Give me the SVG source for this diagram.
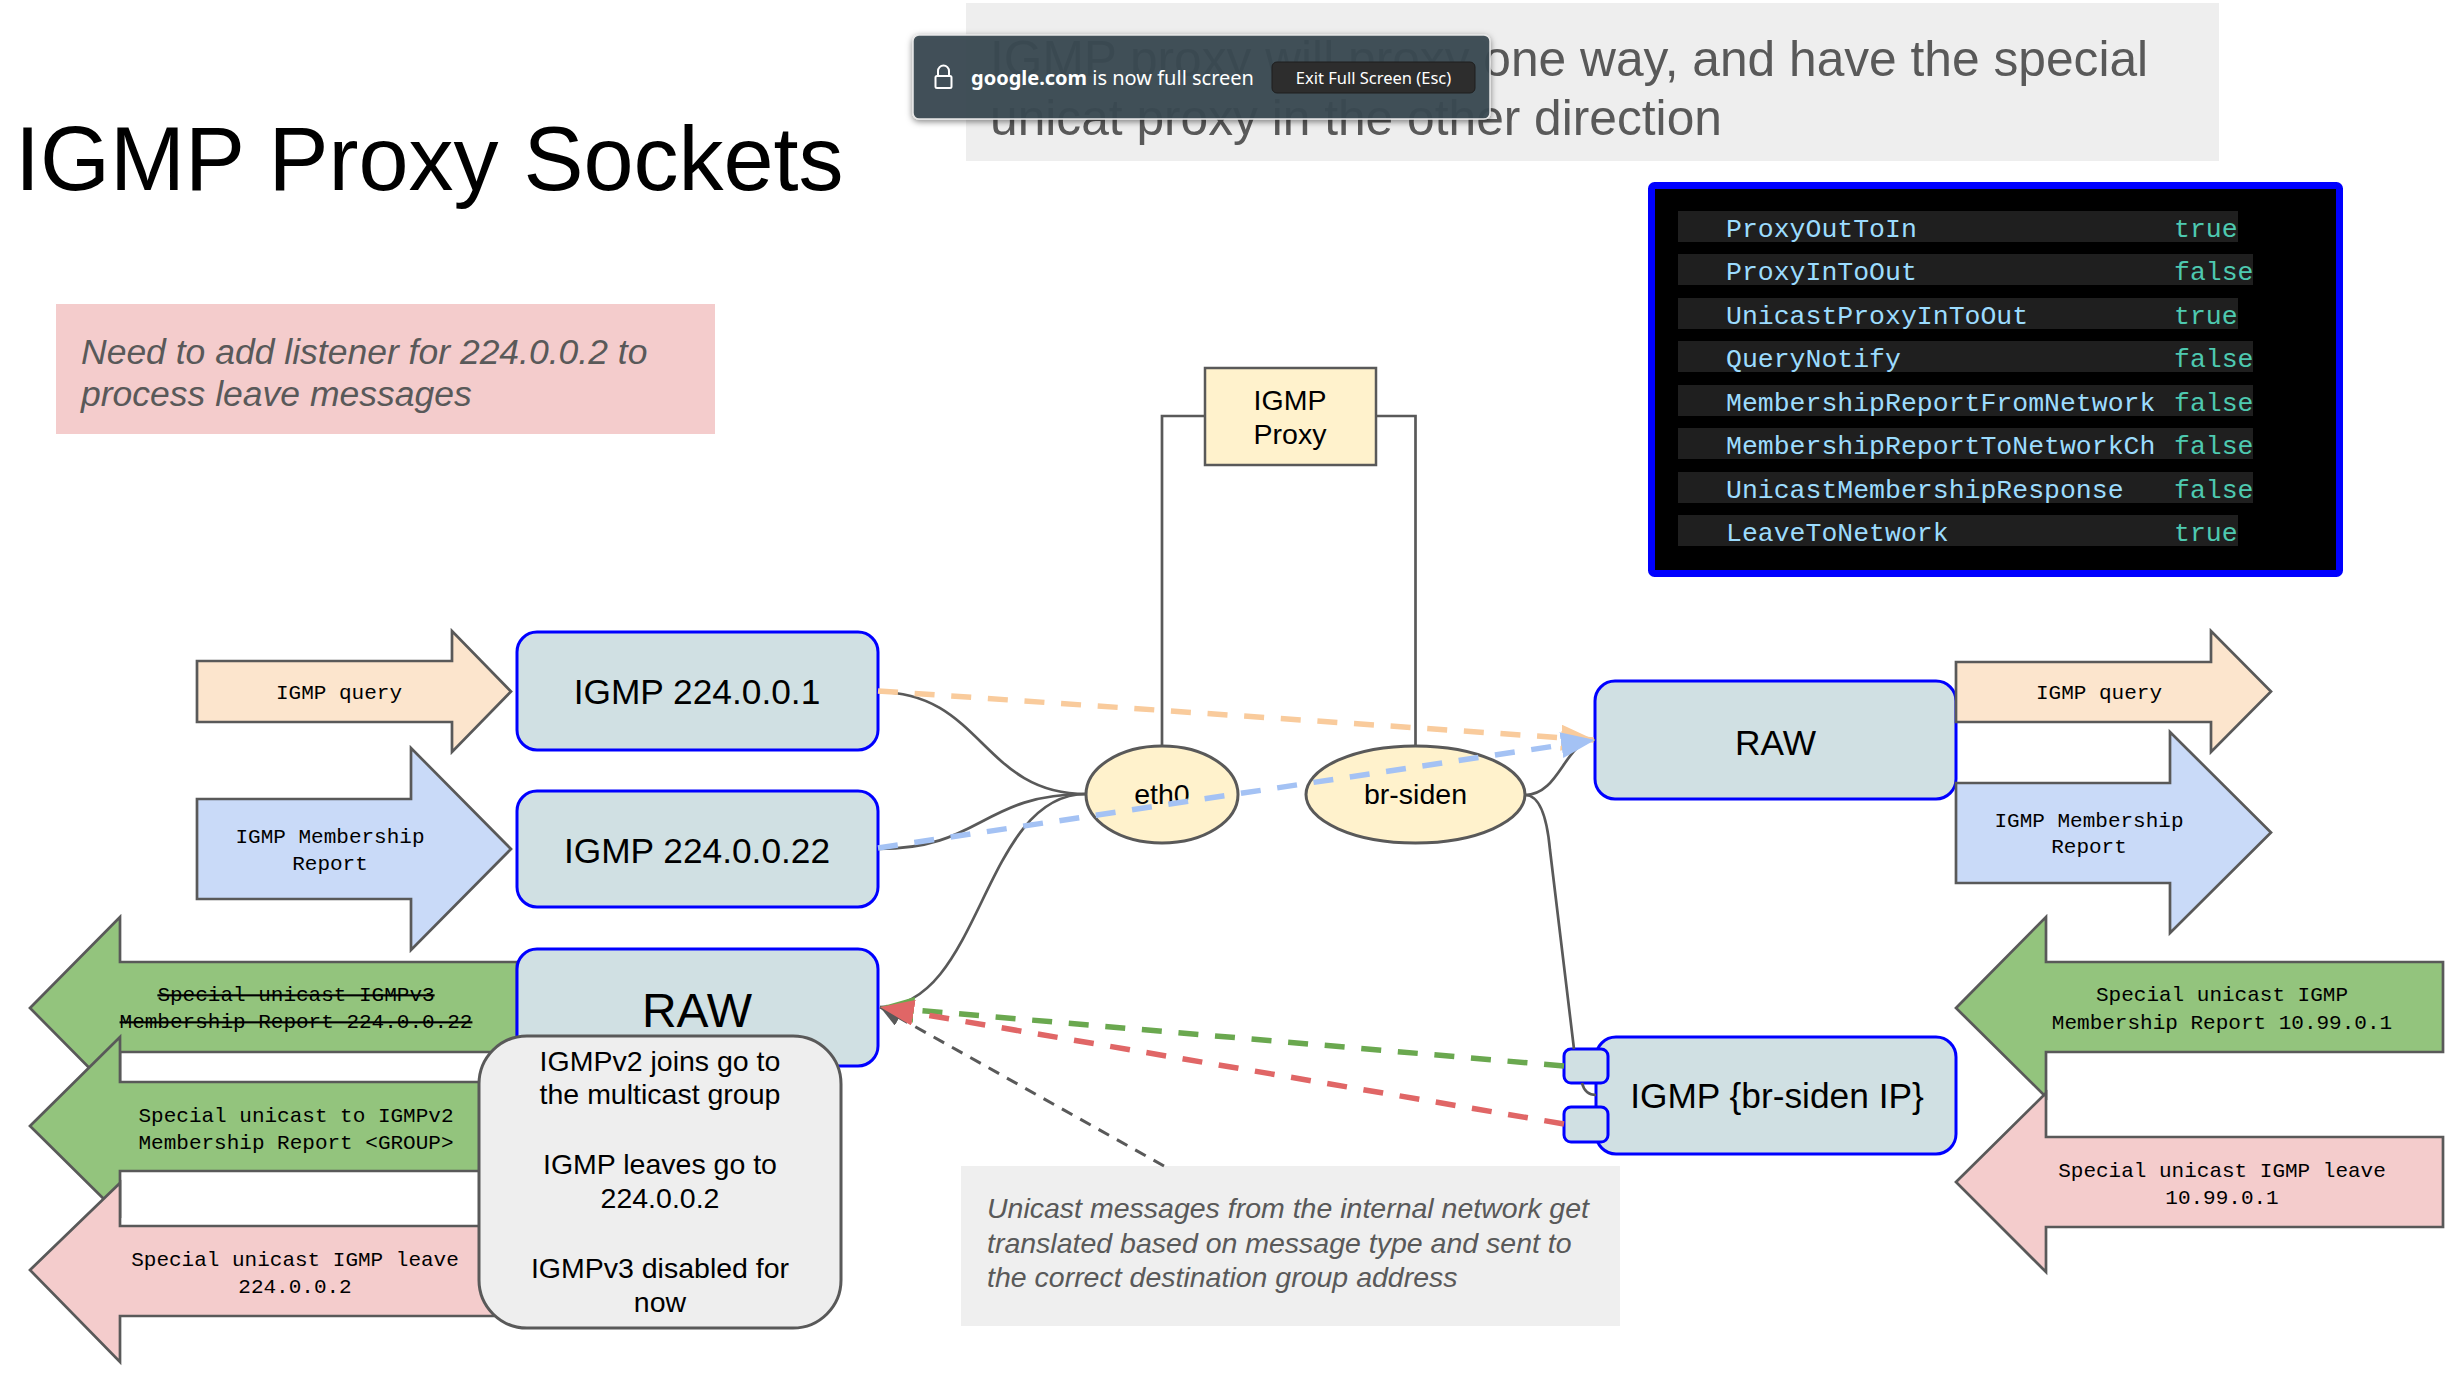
<svg xmlns="http://www.w3.org/2000/svg" width="2454" height="1375" viewBox="0 0 2454 1375">
<style>
.sans{font-family:"Liberation Sans",Arial,sans-serif}
.box{fill:#d0e0e3;stroke:#0000ff;stroke-width:3}
.lbl{font-family:"Liberation Sans",Arial,sans-serif;font-size:35.3px;fill:#000;text-anchor:middle}
.big{font-size:48px}
.mono{font-family:"Liberation Mono","Courier New",monospace;font-size:21px;fill:#000;text-anchor:middle}
.arr{stroke:#595959;stroke-width:2.7;stroke-linejoin:miter}
.wire{fill:none;stroke:#595959;stroke-width:2.7}
.dash{fill:none;stroke-width:5.5;stroke-dasharray:20 16.7}
.ell{fill:#fff2cc;stroke:#595959;stroke-width:3}
.note{font-family:"Liberation Sans",Arial,sans-serif;font-style:italic;fill:#595959}
.row{fill:#1f1f1f}
.k{font-family:"Liberation Mono","DejaVu Sans Mono",monospace;font-size:26.5px;fill:#9cdcfe}
.v{font-family:"Liberation Mono","DejaVu Sans Mono",monospace;font-size:26.5px;fill:#4ec9b0}
.gn{font-family:"Liberation Sans",Arial,sans-serif;font-size:28.5px;fill:#000;text-anchor:middle}
.ban{font-family:"Noto Sans","Open Sans",sans-serif;fill:#fff}
</style>
<defs>
<marker id="mOrange" markerUnits="userSpaceOnUse" markerWidth="34" markerHeight="26" refX="34" refY="13" orient="auto" viewBox="0 0 34 26"><path d="M0,0 L34,13 L0,26 z" fill="#f9cb9c"/></marker>
<marker id="mBlue" markerUnits="userSpaceOnUse" markerWidth="34" markerHeight="26" refX="34" refY="13" orient="auto" viewBox="0 0 34 26"><path d="M0,0 L34,13 L0,26 z" fill="#a4c2f4"/></marker>
<marker id="mGreen" markerUnits="userSpaceOnUse" markerWidth="34" markerHeight="26" refX="34" refY="13" orient="auto" viewBox="0 0 34 26"><path d="M0,0 L34,13 L0,26 z" fill="#6aa84f"/></marker>
<marker id="mRed" markerUnits="userSpaceOnUse" markerWidth="34" markerHeight="26" refX="34" refY="13" orient="auto" viewBox="0 0 34 26"><path d="M0,0 L34,13 L0,26 z" fill="#e06666"/></marker>
<marker id="mGray" markerUnits="userSpaceOnUse" markerWidth="22" markerHeight="18" refX="22" refY="9" orient="auto" viewBox="0 0 22 18"><path d="M0,0 L22,9 L0,18 z" fill="#595959"/></marker>
<filter id="shadow" x="-10%" y="-20%" width="120%" height="150%"><feDropShadow dx="0" dy="2" stdDeviation="3" flood-color="#000" flood-opacity="0.5"/></filter>
</defs>
<rect width="2454" height="1375" fill="#ffffff"/>

<g id="title"><text class="sans" x="15" y="190" font-size="90" fill="#000">IGMP Proxy Sockets</text></g>

<g id="header-note">
<rect x="966" y="3" width="1253" height="158" fill="#eeeeee"/>
<text class="sans" x="990" y="76" font-size="49.7" fill="#595959">IGMP proxy will proxy one way, and have the special</text>
<text class="sans" x="990" y="135" font-size="49.7" fill="#595959">unicat proxy in the other direction</text>
</g>

<g id="listener-note">
<rect x="56" y="304" width="659" height="130" fill="#f4cccc"/>
<text class="note" x="81" y="364" font-size="35.5">Need to add listener for 224.0.0.2 to</text>
<text class="note" x="81" y="406" font-size="35.5">process leave messages</text>
</g>

<g id="flags-table">
<rect x="1651.5" y="185.5" width="688" height="388" rx="3" fill="#000" stroke="#0000ff" stroke-width="7"/>
<rect class="row" x="1678" y="211" width="560" height="31"/>
<text class="k" x="1726" y="237">ProxyOutToIn</text><text class="v" x="2174" y="237">true</text>
<rect class="row" x="1678" y="254" width="575" height="31"/>
<text class="k" x="1726" y="280">ProxyInToOut</text><text class="v" x="2174" y="280">false</text>
<rect class="row" x="1678" y="298" width="560" height="31"/>
<text class="k" x="1726" y="324">UnicastProxyInToOut</text><text class="v" x="2174" y="324">true</text>
<rect class="row" x="1678" y="341" width="575" height="31"/>
<text class="k" x="1726" y="367">QueryNotify</text><text class="v" x="2174" y="367">false</text>
<rect class="row" x="1678" y="385" width="575" height="31"/>
<text class="k" x="1726" y="411">MembershipReportFromNetwork</text><text class="v" x="2174" y="411">false</text>
<rect class="row" x="1678" y="428" width="575" height="31"/>
<text class="k" x="1726" y="454">MembershipReportToNetworkCh</text><text class="v" x="2174" y="454">false</text>
<rect class="row" x="1678" y="472" width="575" height="31"/>
<text class="k" x="1726" y="498">UnicastMembershipResponse</text><text class="v" x="2174" y="498">false</text>
<rect class="row" x="1678" y="515" width="560" height="31"/>
<text class="k" x="1726" y="541">LeaveToNetwork</text><text class="v" x="2174" y="541">true</text>
</g>

<g id="igmp-proxy">
<rect x="1205" y="368" width="171" height="97" fill="#fff2cc" stroke="#595959" stroke-width="2.5"/>
<text class="gn" x="1290" y="410">IGMP</text>
<text class="gn" x="1290" y="444">Proxy</text>
</g>

<g id="eth0">
<ellipse class="ell" cx="1162" cy="794.5" rx="76" ry="48.5"/>
<text class="gn" x="1162" y="804">eth0</text>
</g>
<g id="br-siden">
<ellipse class="ell" cx="1415.5" cy="794.5" rx="109.5" ry="48.5"/>
<text class="gn" x="1415.5" y="804">br-siden</text>
</g>

<g id="arrow-query-in">
<polygon class="arr" fill="#fce5cd" points="197,661 452,661 452,631 511,691.5 452,752 452,722 197,722"/>
<text class="mono" x="339" y="699">IGMP query</text>
</g>
<g id="arrow-report-in">
<polygon class="arr" fill="#c9daf8" points="197,799 411,799 411,748 511,849 411,950 411,899 197,899"/>
<text class="mono" x="330" y="843">IGMP Membership</text>
<text class="mono" x="330" y="870">Report</text>
</g>
<g id="arrow-v3-out">
<polygon class="arr" fill="#93c47d" points="30,1008 120,917 120,962 517,962 517,1052 120,1052 120,1099"/>
<text class="mono" x="296" y="1001" text-decoration="line-through">Special unicast IGMPv3</text>
<text class="mono" x="296" y="1028" text-decoration="line-through">Membership Report 224.0.0.22</text>
</g>
<g id="arrow-v2-out">
<polygon class="arr" fill="#93c47d" points="30,1126 120,1037 120,1082 500,1082 500,1171 120,1171 120,1215"/>
<text class="mono" x="296" y="1122">Special unicast to IGMPv2</text>
<text class="mono" x="296" y="1149">Membership Report &lt;GROUP&gt;</text>
</g>
<g id="arrow-leave-out">
<polygon class="arr" fill="#f4cccc" points="30,1270 120,1183 120,1226 500,1226 500,1316 120,1316 120,1362"/>
<text class="mono" x="295" y="1266">Special unicast IGMP leave</text>
<text class="mono" x="295" y="1293">224.0.0.2</text>
</g>

<g id="igmp-224-0-0-1">
<rect class="box" x="517" y="632" width="361" height="118" rx="20"/>
<text class="lbl" x="697" y="704">IGMP 224.0.0.1</text>
</g>
<g id="igmp-224-0-0-22">
<rect class="box" x="517" y="791" width="361" height="116" rx="20"/>
<text class="lbl" x="697" y="863">IGMP 224.0.0.22</text>
</g>
<g id="raw-left">
<rect class="box" x="517" y="949" width="361" height="117" rx="20"/>
<text class="lbl big" x="697" y="1027">RAW</text>
</g>

<g id="raw-note">
<rect x="479" y="1036" width="362" height="292" rx="48" fill="#eeeeee" stroke="#595959" stroke-width="3"/>
<text class="gn" x="660" y="1071">IGMPv2 joins go to</text>
<text class="gn" x="660" y="1104">the multicast group</text>
<text class="gn" x="660" y="1174">IGMP leaves go to</text>
<text class="gn" x="660" y="1208">224.0.0.2</text>
<text class="gn" x="660" y="1278">IGMPv3 disabled for</text>
<text class="gn" x="660" y="1312">now</text>
</g>

<g id="raw-right">
<rect class="box" x="1595" y="681" width="361" height="118" rx="20"/>
<text class="lbl" x="1775.5" y="755">RAW</text>
</g>
<g id="igmp-br-siden">
<rect class="box" x="1596" y="1037" width="360" height="117" rx="20"/>
<text class="lbl" x="1777" y="1108">IGMP {br-siden IP}</text>
<rect class="box" x="1564" y="1049" width="44" height="34" rx="7"/>
<rect class="box" x="1564" y="1107" width="44" height="35" rx="7"/>
</g>

<g id="arrow-query-out">
<polygon class="arr" fill="#fce5cd" points="1956,662 2211,662 2211,631 2271,691.5 2211,752 2211,722 1956,722"/>
<text class="mono" x="2099" y="699">IGMP query</text>
</g>
<g id="arrow-report-out">
<polygon class="arr" fill="#c9daf8" points="1956,783 2170,783 2170,732 2271,832.5 2170,933 2170,883 1956,883"/>
<text class="mono" x="2089" y="827">IGMP Membership</text>
<text class="mono" x="2089" y="853">Report</text>
</g>
<g id="arrow-unicast-report">
<polygon class="arr" fill="#93c47d" points="1956,1008 2046,917 2046,962 2443,962 2443,1052 2046,1052 2046,1097"/>
<text class="mono" x="2222" y="1001">Special unicast IGMP</text>
<text class="mono" x="2222" y="1029">Membership Report 10.99.0.1</text>
</g>
<g id="arrow-unicast-leave">
<polygon class="arr" fill="#f4cccc" points="1956,1182 2046,1093 2046,1137 2443,1137 2443,1227 2046,1227 2046,1272"/>
<text class="mono" x="2222" y="1177">Special unicast IGMP leave</text>
<text class="mono" x="2222" y="1204">10.99.0.1</text>
</g>

<g id="unicast-note">
<rect x="961" y="1166" width="659" height="160" fill="#efefef"/>
<text class="note" x="987" y="1218" font-size="28.5">Unicast messages from the internal network get</text>
<text class="note" x="987" y="1253" font-size="28.5">translated based on message type and sent to</text>
<text class="note" x="987" y="1287" font-size="28.5">the correct destination group address</text>
</g>

<g id="connectors">
<path class="wire" d="M1205,416 H1162 V746"/>
<path class="wire" d="M1376,416 H1415.5 V746"/>
<path class="wire" d="M1086,794 C982,794 982,692 878,692"/>
<path class="wire" d="M1086,794 C982,794 982,849 878,849"/>
<path class="wire" d="M1086,794 C982,794 982,1007 880,1007"/>
<path class="wire" d="M1525,795 C1560,795 1565,740 1595,740"/>
<path class="wire" d="M1525,795 Q1545,795 1550,850 L1574,1049 M1582,1083 Q1585,1095 1596,1095"/>
<path class="dash" stroke="#f9cb9c" d="M878,691 L1595,740" marker-end="url(#mOrange)"/>
<path class="dash" stroke="#a4c2f4" d="M878,848 L1595,740" marker-end="url(#mBlue)"/>
<path fill="none" stroke="#595959" stroke-width="3" stroke-dasharray="12 9" d="M1164,1166 L880,1007" marker-end="url(#mGray)"/>
<path class="dash" stroke="#6aa84f" d="M1564,1066 L880,1007" marker-end="url(#mGreen)"/>
<path class="dash" stroke="#e06666" d="M1564,1124 L880,1007" marker-end="url(#mRed)"/>
</g>

<g id="fullscreen-banner">
<rect x="913" y="35" width="577" height="84" rx="6" fill="#3b4952" fill-opacity="0.93" stroke="#e8e8e8" stroke-width="1.5" filter="url(#shadow)"/>
<path d="M938,76 v-5 a5.5,5.5 0 0 1 11,0 v5" fill="none" stroke="#fff" stroke-width="2"/>
<rect x="935.5" y="76" width="16" height="12" rx="1.5" fill="none" stroke="#fff" stroke-width="2"/>
<text class="ban" x="971" y="85" font-size="20"><tspan font-weight="bold">google.com</tspan> is now full screen</text>
<rect x="1272" y="62" width="203" height="31" rx="5" fill="#2d2d2d" stroke="#1e1e1e" stroke-width="1"/>
<text class="ban" x="1373.5" y="84" font-size="16.5" text-anchor="middle">Exit Full Screen (Esc)</text>
</g>
</svg>
